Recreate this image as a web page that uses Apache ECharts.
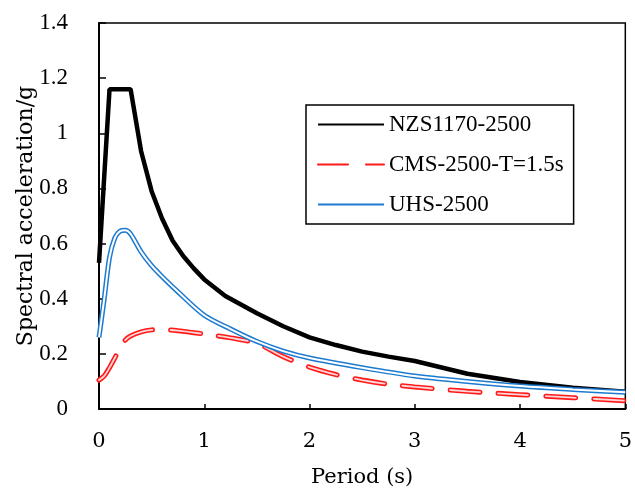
<!DOCTYPE html>
<html>
<head>
<meta charset="utf-8">
<script src="https://cdn.jsdelivr.net/npm/echarts@6/dist/echarts.min.js"></script>
<style>
  html, body { margin: 0; padding: 0; background: #fff; }
  #chart { width: 635px; height: 493px; }
</style>
</head>
<body>
<div id="chart"></div>
<script>
// 数据
var nzsT = [0, 0.1, 0.3, 0.4, 0.5, 0.6, 0.7, 0.8, 0.9, 1.0, 1.2, 1.5, 1.75, 2.0, 2.25, 2.5, 2.75, 3.0, 3.5, 4.0, 4.5, 5.0];
var nzsSa = [0.53, 1.16, 1.16, 0.935, 0.79, 0.69, 0.61, 0.555, 0.51, 0.47, 0.41, 0.347, 0.30, 0.26, 0.232, 0.208, 0.19, 0.174, 0.128, 0.098, 0.077, 0.063];

var uhsT = [0, 0.05, 0.1, 0.15, 0.2, 0.25, 0.3, 0.4, 0.5, 0.6, 0.75, 1.0, 1.25, 1.5, 1.75, 2.0, 2.5, 3.0, 3.5, 4.0, 4.5, 5.0];
var uhsSa = [0.26, 0.40, 0.55, 0.62, 0.645, 0.648, 0.635, 0.57, 0.52, 0.48, 0.425, 0.34, 0.29, 0.245, 0.21, 0.185, 0.15, 0.12, 0.10, 0.083, 0.071, 0.061];

var cmsT = [0, 0.05, 0.1, 0.15, 0.2, 0.25, 0.3, 0.4, 0.5, 0.6, 0.75, 1.0, 1.25, 1.5, 1.75, 2.0, 2.25, 2.5, 2.75, 3.0, 3.5, 4.0, 4.5, 5.0];
var cmsSa = [0.105, 0.12, 0.15, 0.185, 0.22, 0.25, 0.265, 0.28, 0.287, 0.288, 0.284, 0.272, 0.258, 0.238, 0.19, 0.152, 0.125, 0.105, 0.09, 0.08, 0.064, 0.052, 0.041, 0.03];

var xTicks = [0, 1, 2, 3, 4, 5];
var yTicks = [0, 0.2, 0.4, 0.6, 0.8, 1, 1.2, 1.4];

function pairs(t, v) {
  return t.map(function (x, i) { return [x, v[i]]; });
}

var chart = echarts.init(document.getElementById('chart'));
var serif = 'Liberation Serif';
var option = {
  animation: false,
  grid: {
    left: 99, top: 23, right: 2, bottom: 83,
    show: true, borderColor: '#000', borderWidth: 1.5
  },
  legend: {
    orient: 'vertical',
    left: 306, top: 105,
    padding: [8, 10, 8, 11],
    itemGap: 17,
    itemWidth: 66, itemHeight: 14,
    borderColor: '#000', borderWidth: 1.5,
    backgroundColor: '#fff',
    itemStyle: { opacity: 0 },
    textStyle: { fontFamily: serif, fontSize: 23, color: '#000' },
    data: ['NZS1170-2500', 'CMS-2500-T=1.5s', 'UHS-2500']
  },
  xAxis: {
    type: 'value',
    min: xTicks[0], max: xTicks[xTicks.length - 1], interval: 1,
    name: 'Period (s)',
    nameLocation: 'middle',
    nameGap: 58,
    nameTextStyle: { fontFamily: 'DejaVu Serif', fontSize: 21, color: '#000' },
    axisLine: { lineStyle: { color: '#000', width: 2 } },
    axisTick: { inside: true, length: 5, lineStyle: { color: '#000', width: 1.5 } },
    axisLabel: { fontFamily: 'DejaVu Serif', fontSize: 21, color: '#000', margin: 22 },
    splitLine: { show: false }
  },
  yAxis: {
    type: 'value',
    min: yTicks[0], max: yTicks[yTicks.length - 1], interval: 0.2,
    name: 'Spectral acceleration/g',
    nameLocation: 'middle',
    nameGap: 62,
    nameMoveOverlap: false,
    nameTextStyle: { fontFamily: 'DejaVu Serif', fontSize: 22, color: '#000' },
    axisLine: { lineStyle: { color: '#000', width: 2 } },
    axisTick: { inside: true, length: 7, lineStyle: { color: '#000', width: 1.5 } },
    axisLabel: { fontFamily: serif, fontSize: 23, color: '#000', margin: 31 },
    splitLine: { show: false }
  },
  series: [
    {
      name: 'NZS1170-2500', type: 'line', symbol: 'none',
      data: pairs(nzsT, nzsSa),
      lineStyle: { color: '#000', width: 4.5 }, itemStyle: { color: '#000' }, z: 3
    },
    {
      name: 'CMS-2500-T=1.5s', type: 'line', symbol: 'none', smooth: 0.3,
      data: pairs(cmsT, cmsSa),
      lineStyle: { color: '#ff1a1a', width: 5, type: [30, 18], cap: 'round' },
      itemStyle: { color: '#ff1a1a' }, z: 4
    },
    {
      name: 'CMS-inner', type: 'line', symbol: 'none', silent: true, smooth: 0.3,
      data: pairs(cmsT, cmsSa),
      lineStyle: { color: '#ffd6d6', width: 1.8, type: [30, 18], cap: 'round' }, z: 5
    },
    {
      name: 'UHS-2500', type: 'line', symbol: 'none', smooth: 0.3,
      data: pairs(uhsT, uhsSa),
      lineStyle: { color: '#1c7bd0', width: 5 }, itemStyle: { color: '#1c7bd0' }, z: 6
    },
    {
      name: 'UHS-inner', type: 'line', symbol: 'none', silent: true, smooth: 0.3,
      data: pairs(uhsT, uhsSa),
      lineStyle: { color: '#fff', width: 2 }, z: 7
    }
  ]
};
chart.setOption(option);
</script>
</body>
</html>
